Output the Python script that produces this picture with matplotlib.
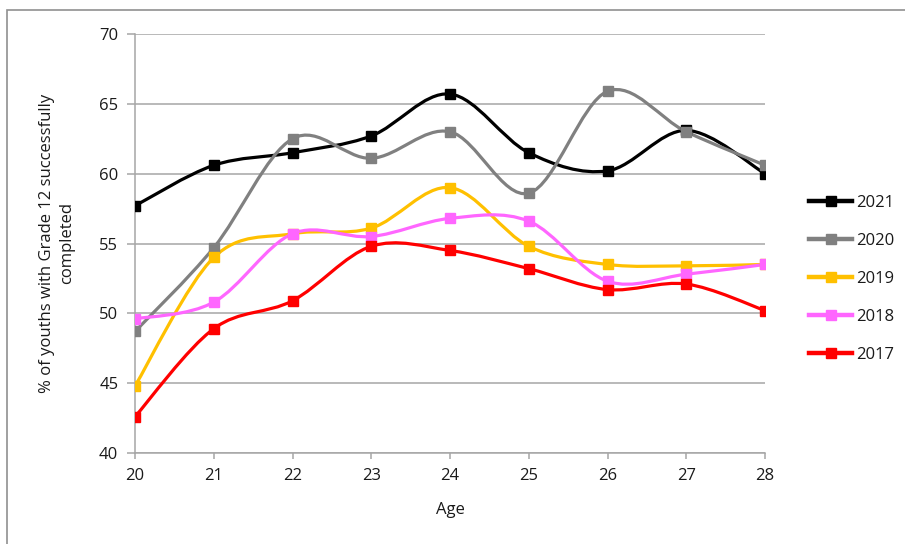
import matplotlib
matplotlib.use("Agg")
import matplotlib.pyplot as plt
from matplotlib.path import Path
from matplotlib.patches import PathPatch, Rectangle
from matplotlib.lines import Line2D

plt.rcParams['font.family'] = ['Open Sans', 'DejaVu Sans']

ages = [20, 21, 22, 23, 24, 25, 26, 27, 28]
years = ["2021", "2020", "2019", "2018", "2017"]
v2021 = [57.7, 60.6, 61.5, 62.7, 65.7, 61.5, 60.2, 63.1, 60.0]
v2020 = [48.7, 54.7, 62.5, 61.1, 63.0, 58.6, 65.9, 63.0, 60.6]
v2019 = [44.8, 54.0, 55.7, 56.1, 59.0, 54.8, 53.5, 53.4, 53.5]
v2018 = [49.6, 50.8, 55.7, 55.5, 56.8, 56.6, 52.3, 52.8, 53.5]
v2017 = [42.6, 48.9, 50.9, 54.8, 54.5, 53.2, 51.7, 52.1, 50.2]
series = [v2021, v2020, v2019, v2018, v2017]
colors = ["#000000", "#808080", "#FFC000", "#FF66FF", "#FF0000"]
yticks = [40, 45, 50, 55, 60, 65, 70]


def smooth_path(xs, ys):
    n = len(xs)
    verts = [(xs[0], ys[0])]
    codes = [Path.MOVETO]
    for i in range(n - 1):
        x0, y0 = (xs[i - 1], ys[i - 1]) if i > 0 else (xs[i], ys[i])
        x1, y1 = xs[i], ys[i]
        x2, y2 = xs[i + 1], ys[i + 1]
        x3, y3 = (xs[i + 2], ys[i + 2]) if i + 2 < n else (x2, y2)
        c1 = (x1 + (x2 - x0) / 6.0, y1 + (y2 - y0) / 6.0)
        c2 = (x2 - (x3 - x1) / 6.0, y2 - (y3 - y1) / 6.0)
        verts += [c1, c2, (x2, y2)]
        codes += [Path.CURVE4] * 3
    return Path(verts, codes)


fig = plt.figure(figsize=(9.05, 5.44), dpi=100)
W, H = 905, 544
ax = fig.add_axes([135 / W, 1 - 453 / H, (765 - 135) / W, (453 - 34) / H])

# outer frame
fig.patches.append(Rectangle((7 / W, -0.05), 1.2, 1 - 10 / H + 0.05,
                             transform=fig.transFigure, fill=False,
                             edgecolor="#909090", linewidth=1.2))

for vals, c in zip(series, colors):
    ax.add_patch(PathPatch(smooth_path(ages, vals), facecolor="none",
                           edgecolor=c, linewidth=2.3, zorder=3,
                           capstyle="round", joinstyle="round"))
    ax.plot(ages, vals, linestyle="none", marker="s", markersize=7.5,
            color=c, zorder=4)

ax.set_xlim(20, 28)
ax.set_ylim(40, 70)
ax.set_xticks(ages)
ax.set_yticks(yticks)
ax.grid(axis="y", color="#a6a6a6", linewidth=1.1)
ax.set_axisbelow(True)
for s in ["top", "right"]:
    ax.spines[s].set_visible(False)
for s in ["left", "bottom"]:
    ax.spines[s].set_color("#a6a6a6")
    ax.spines[s].set_linewidth(1.1)
ax.tick_params(axis="both", colors="#a6a6a6", labelcolor="#1a1a1a",
               labelsize=12, width=1.1)
ax.tick_params(axis="y", length=6, pad=6)
ax.tick_params(axis="x", length=4, pad=7)

ax.set_xlabel("Age", fontsize=12, color="#1a1a1a")
ax.xaxis.set_label_coords(0.5, -0.118)
ax.set_ylabel("% of youths with Grade 12 successfully\ncompleted",
              fontsize=12, color="#1a1a1a", linespacing=1.35)
ax.yaxis.set_label_coords(-0.095, 0.5)

handles = [Line2D([], [], color=c, linewidth=3.2, marker="s", markersize=7.5)
           for c in colors]
fig.legend(handles, years, loc="center left",
           bbox_to_anchor=(794 / W, 1 - 279 / H), frameon=False,
           fontsize=12, handlelength=2.6, handletextpad=0.25,
           labelspacing=1.32, labelcolor="#1a1a1a")

fig.savefig("out.png", dpi=100)
